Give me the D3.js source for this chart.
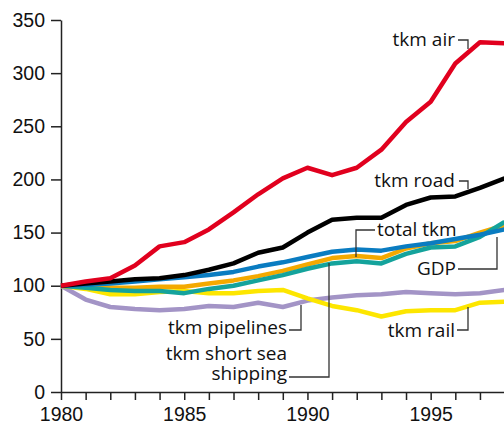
<!DOCTYPE html>
<html>
<head>
<meta charset="utf-8">
<script src="https://cdn.jsdelivr.net/npm/d3@7"></script>
<style>
  body { margin: 0; background: #fff; }
  svg { display: block; font-family: "Open Sans", "Noto Sans", sans-serif; }
  .axis path, .axis line { stroke: #222; stroke-width: 1.5; }
  .axis text { font-size: 19.5px; fill: #111; }
  .lbl { font-size: 19px; fill: #111; }
  .leader { fill: none; stroke: #333; stroke-width: 1.3; }
</style>
</head>
<body>
<div id="chart"></div>
<script>
var width = 504, height = 426;

// years and index values (1980 = 100)
var years = d3.range(1980, 1999);
var tkmAir =       [100, 104, 107, 119, 137, 141, 153, 169, 186, 201, 211, 204, 211, 228, 254, 273, 309, 329, 328];
var tkmRoad =      [100, 102, 104, 106, 107, 110, 115, 121, 131, 136, 150, 162, 164, 164, 176, 183, 184, 192, 201];
var gdp =          [100, 101, 102, 104, 106, 108, 110, 113, 118, 122, 127, 132, 134, 133, 137, 140, 144, 148, 153];
var totalTkm =     [100,  99,  98,  98,  99,  99, 102, 105, 109, 114, 120, 126, 128, 126, 135, 140, 142, 150, 157];
var shortSea =     [100,  98,  96,  95,  95,  93,  97, 100, 105, 110, 116, 121, 123, 121, 130, 136, 137, 146, 160];
var tkmRail =      [100,  97,  92,  92,  94,  95,  93,  93,  95,  96,  88,  81,  77,  71,  76,  77,  77,  84,  85];
var tkmPipelines = [100,  87,  80,  78,  77,  78,  81,  80,  84,  80,  86,  89,  91,  92,  94,  93,  92,  93,  96];

var yTicks = [0, 50, 100, 150, 200, 250, 300, 350];

var series = [
  {name: "tkm pipelines", values: tkmPipelines, color: "#a394c6"},
  {name: "tkm rail", values: tkmRail, color: "#fde600"},
  {name: "total tkm", values: totalTkm, color: "#f4a900"},
  {name: "tkm short sea shipping", values: shortSea, color: "#14a39c"},
  {name: "GDP", values: gdp, color: "#0a7cc1"},
  {name: "tkm road", values: tkmRoad, color: "#000000"},
  {name: "tkm air", values: tkmAir, color: "#e1001e"}
];

var x = d3.scaleLinear().domain([1980, 1998]).range([61, 504.6]);
var y = d3.scaleLinear().domain([0, 350]).range([392, 20]);

var svg = d3.select("#chart").append("svg")
    .attr("width", width)
    .attr("height", height);

// axes
svg.append("g")
    .attr("class", "axis")
    .attr("transform", "translate(0,392)")
    .call(d3.axisBottom(x)
        .tickValues(years)
        .tickSize(8)
        .tickSizeOuter(0)
        .tickPadding(7)
        .tickFormat(function(d) { return d % 5 === 0 ? d : ""; }));

svg.append("g")
    .attr("class", "axis")
    .attr("transform", "translate(61,0)")
    .call(d3.axisLeft(y)
        .tickValues(yTicks)
        .tickSize(10)
        .tickSizeOuter(0)
        .tickPadding(6));

// lines
var line = d3.line()
    .x(function(d, i) { return x(years[i]); })
    .y(function(d) { return y(d); });

svg.selectAll(".series")
    .data(series)
    .enter()
    .append("path")
    .attr("class", "series")
    .attr("fill", "none")
    .attr("stroke", function(d) { return d.color; })
    .attr("stroke-width", 4.5)
    .attr("stroke-linejoin", "round")
    .attr("d", function(d) { return line(d.values); });

// labels with leader lines (pixel positions)
var labels = [
  {text: "tkm air", x: 455, y: 46},
  {text: "tkm road", x: 455, y: 187},
  {text: "total tkm", x: 377, y: 236, anchor: "start"},
  {text: "GDP", x: 456, y: 275},
  {text: "tkm rail", x: 455, y: 337},
  {text: "tkm pipelines", x: 287, y: 334},
  {text: "tkm short sea", x: 287, y: 360},
  {text: "shipping", x: 287, y: 380}
];
var leaders = [
  [[458, 40], [468, 40], [468, 49]],
  [[459, 181], [468, 181], [468, 189]],
  [[375, 230], [356, 230], [356, 257]],
  [[458, 269], [497, 269], [497, 237]],
  [[457, 330], [468, 330], [468, 307]],
  [[289, 330], [301, 330], [301, 305]],
  [[289, 377], [329, 377], [329, 263]]
];

svg.selectAll(".lbl")
    .data(labels)
    .enter()
    .append("text")
    .attr("class", "lbl")
    .attr("x", function(d) { return d.x; })
    .attr("y", function(d) { return d.y; })
    .attr("text-anchor", function(d) { return d.anchor || "end"; })
    .text(function(d) { return d.text; });

svg.selectAll(".leader")
    .data(leaders)
    .enter()
    .append("path")
    .attr("class", "leader")
    .attr("d", function(d) { return d3.line()(d); });
</script>
</body>
</html>
